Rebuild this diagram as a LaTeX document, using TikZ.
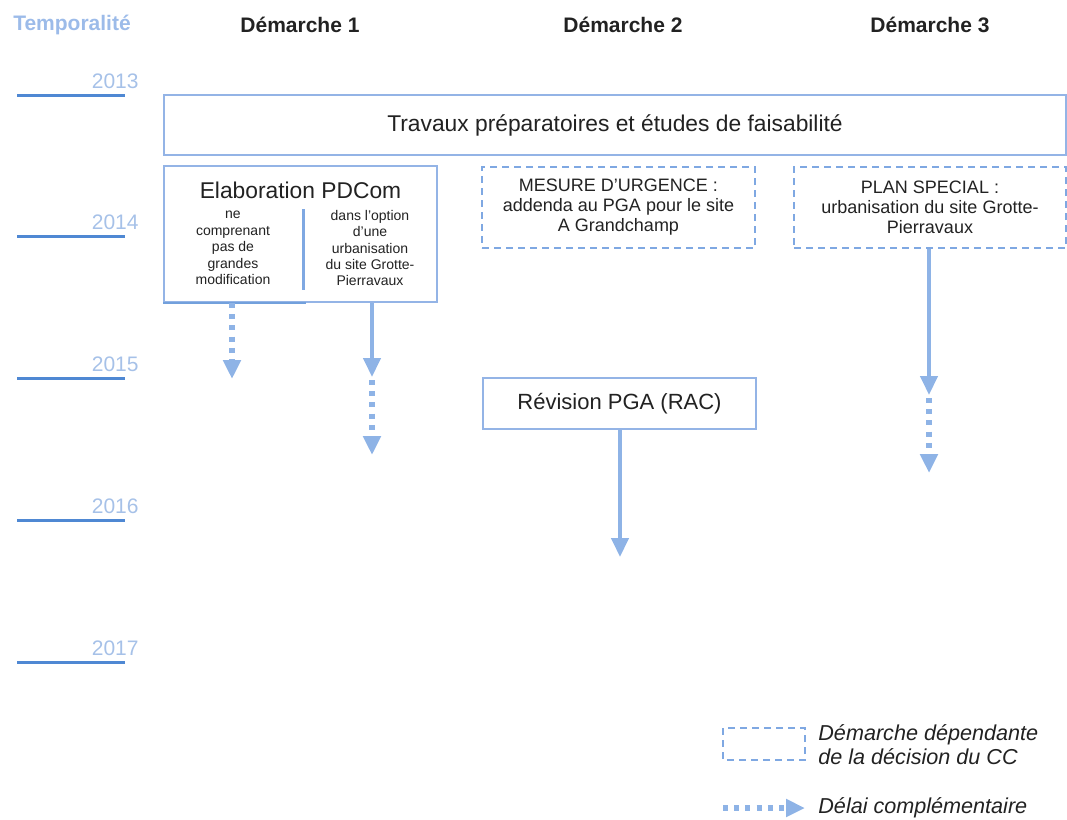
\documentclass[tikz,border=0pt]{standalone}
\usepackage{fontspec}
\setmainfont{Liberation Sans}
\usetikzlibrary{arrows.meta}

\definecolor{tempblue}{HTML}{9CBBE9}
\definecolor{yeartext}{HTML}{A6C1E8}
\definecolor{yearline}{HTML}{4F88D3}
\definecolor{boxblue}{HTML}{94B4E6}
\definecolor{dashblue}{HTML}{7FA8E2}
\definecolor{arrowblue}{HTML}{8EB3E6}
\definecolor{textgray}{HTML}{222222}

\begin{document}
\begin{tikzpicture}[x=0.5pt,y=-0.5pt,
  head/.style={font=\bfseries\fontsize{10.5}{12}\selectfont, text=textgray},
  year/.style={font=\fontsize{10.5}{12}\selectfont, text=yeartext, inner sep=0pt},
  box/.style={draw=boxblue, line width=1pt, fill=white, align=center, inner sep=0pt, text=textgray},
  dbox/.style={draw=dashblue, line width=0.9pt, dash pattern=on 3.5pt off 2.5pt, align=center,
    inner sep=0pt, text=textgray, font=\fontsize{9}{10}\selectfont},
  small/.style={font=\fontsize{7}{8.2}\selectfont, align=center, text=textgray, inner sep=0pt},
  legend/.style={font=\itshape\fontsize{10.8}{12}\selectfont, align=left, text=textgray, inner sep=0pt},
  arr/.style={draw=arrowblue, line width=2.2pt, -{Triangle[width=8.5pt,length=9.5pt]}},
  dotarr/.style={arr, line width=2.6pt, dash pattern=on 2.5pt off 3.1pt}]
\useasboundingbox (0,0) rectangle (1067,820);

% column heads
\node[head, text=tempblue] (tempo) at (72,25) {Temporalité};
\node[head] (dem1) at (300,25) {Démarche 1};
\node[head] (dem2) at (623,25) {Démarche 2};
\node[head] (dem3) at (930,25) {Démarche 3};

% time scale
\foreach \yr/\yy in {2013/95,2014/236,2015/378,2016/520,2017/662}{
  \draw[yearline, line width=1.5pt] (17,\yy) -- (125,\yy);
  \node[year, anchor=base east] (y\yr) at (139,\yy-7) {\yr};
}

% boxes
\node[box, line width=1.3pt, minimum width=451pt, minimum height=30pt,
  font=\fontsize{11.4}{13}\selectfont] (travaux) at (615,125) {Travaux préparatoires et études de faisabilité};

\node[box, minimum width=136.5pt, minimum height=68pt] (pdcom) at (300.5,234) {};
\draw[yearline!80, line width=1pt] (pdcom.south west) -- ++(143,0);
\node[font=\fontsize{11.4}{13}\selectfont, text=textgray, inner sep=0pt] (pdtitle) at (300.5,190) {Elaboration PDCom};
\node[small] (pdleft) at (233,248) {ne\\comprenant\\pas de\\grandes\\modification};
\node[small] (pdright) at (370,248) {dans l'option\\d'une\\urbanisation\\du site Grotte-\\Pierravaux};
\draw[dashblue, line width=1.5pt] (303,209) -- (303,290);

\node[dbox, minimum width=136.5pt, minimum height=40.5pt] (urgence) at (618.5,207.5)
  {MESURE D'URGENCE :\\addenda au PGA pour le site\\A Grandchamp};
\node[dbox, minimum width=136pt, minimum height=40.5pt] (plan) at (930,207.5)
  {PLAN SPECIAL :\\urbanisation du site Grotte-\\Pierravaux};

\node[box, minimum width=136.5pt, minimum height=25.5pt,
  font=\fontsize{11}{13}\selectfont] (revision) at (619.5,403.5) {Révision PGA (RAC)};

% arrows
\coordinate (e1) at (232,379);
\coordinate (m2) at (372,377);
\coordinate (e2) at (372,455);
\coordinate (m3) at (929,395);
\coordinate (e3) at (929,473);
\coordinate (e4) at (620,557);

\draw[dotarr] (pdcom.south -| e1) -- (e1);
\draw[arr] (pdcom.south -| m2) -- (m2);
\draw[dotarr] ([yshift=-1.5pt]m2) -- (e2);
\draw[arr] (revision.south -| e4) -- (e4);
\draw[arr] (plan.south -| m3) -- (m3);
\draw[dotarr] ([yshift=-1.5pt]m3) -- (e3);

% legend
\draw[dashblue, line width=0.9pt, dash pattern=on 3.5pt off 2.5pt] (723,728) rectangle (805,760);
\node[legend, anchor=west] (leg1) at (818,745) {Démarche dépendante\\de la décision du CC};
\coordinate (l1) at (723,808);
\coordinate (l2) at (805,808);
\draw[dotarr] (l1) -- (l2);
\node[legend, anchor=west] (leg2) at (818,808) {Délai complémentaire};
\end{tikzpicture}
\end{document}
